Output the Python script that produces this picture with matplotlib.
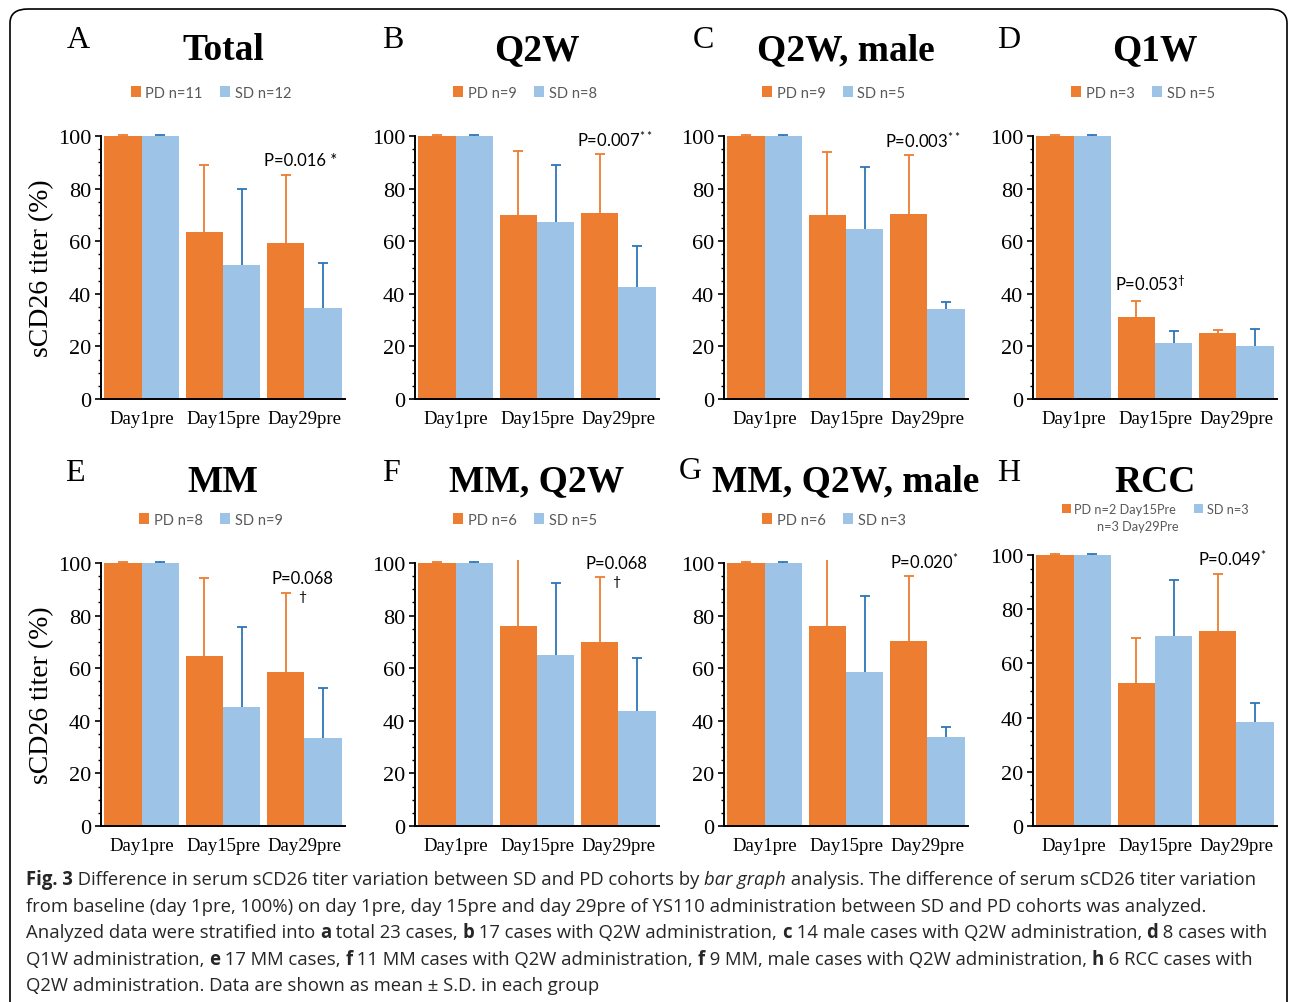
import numpy as np
import matplotlib
matplotlib.use("Agg")
import matplotlib.pyplot as plt
from matplotlib.patches import FancyBboxPatch
from matplotlib.transforms import Bbox, TransformedBbox

# data (mean and S.D., % of day 1pre)
days = ["Day1pre", "Day15pre", "Day29pre"]
letters = ["A", "B", "C", "D", "E", "F", "G", "H"]
titles = ["Total", "Q2W", "Q2W, male", "Q1W", "MM", "MM, Q2W", "MM, Q2W, male", "RCC"]
pd_labels = ["PD n=11", "PD n=9", "PD n=9", "PD n=3", "PD n=8", "PD n=6", "PD n=6", "PD n=2 Day15Pre"]
sd_labels = ["SD n=12", "SD n=8", "SD n=5", "SD n=5", "SD n=9", "SD n=5", "SD n=3", "SD n=3"]

pd_mean = [[100, 63.5, 59.3], [100, 70.0, 70.8], [100, 70.0, 70.5], [100, 31.2, 25.1],
           [100, 64.6, 58.6], [100, 76.0, 70.0], [100, 76.0, 70.3], [100, 52.8, 72.0]]
pd_err = [[0.3, 25.5, 25.7], [0.3, 24.4, 22.2], [0.3, 24.0, 22.3], [0.3, 6.1, 1.2],
          [0.3, 29.7, 30.0], [0.3, 30.0, 24.7], [0.3, 30.0, 24.7], [0.3, 16.6, 21.0]]
sd_mean = [[100, 51.0, 34.6], [100, 67.4, 42.4], [100, 64.7, 34.2], [100, 21.3, 20.2],
           [100, 45.2, 33.5], [100, 65.0, 43.7], [100, 58.6, 33.8], [100, 70.1, 38.4]]
sd_err = [[0.3, 29.0, 17.1], [0.3, 21.6, 15.9], [0.3, 23.5, 2.8], [0.3, 4.6, 6.4],
          [0.3, 30.5, 19.0], [0.3, 27.4, 20.3], [0.3, 28.9, 3.8], [0.3, 20.7, 7.0]]

p_text = ["P=0.016 *", "P=0.007$\\mathregular{^{**}}$", "P=0.003$\\mathregular{^{**}}$",
          "P=0.053$\\mathregular{^{†}}$", "P=0.068", "P=0.068",
          "P=0.020$\\mathregular{^{*}}$", "P=0.049$\\mathregular{^{*}}$"]
p_pos = [(1.95, 91), (1.96, 98.9), (1.94, 98.5), (0.94, 44),
         (1.98, 94.3), (1.98, 100), (1.96, 100.8), (1.95, 98.9)]

ORANGE = "#ED7D31"
BLUE = "#9DC3E6"
DBLUE = "#2E75B6"
SERIF = "Liberation Serif"
SANS = ["Lato", "DejaVu Sans"]

W, H = 1292, 1003
fig = plt.figure(figsize=(W / 100, H / 100), dpi=100)


def fx(x):
    return x / W


def fy(y):
    return 1 - y / H


lefts = [101, 415, 724, 1033]
x = np.arange(len(days))
bw = 0.46

for i in range(8):
    row, col = divmod(i, 4)
    top, bot = (137, 400) if row == 0 else (564, 827)
    if i == 7:
        top = 556
    ax = fig.add_axes([fx(lefts[col]), fy(bot), 244 / W, (bot - top) / H])
    b1 = ax.bar(x - bw / 2, pd_mean[i], bw, color=ORANGE, zorder=2)
    b2 = ax.bar(x + bw / 2, sd_mean[i], bw, color=BLUE, zorder=2)
    # error bars sit behind the bars so only the upper half shows
    clip = TransformedBbox(Bbox([[0, 0], [1, 1.01]]), ax.transAxes)
    for xs, m, e, c in [(x - bw / 2, pd_mean[i], pd_err[i], ORANGE),
                        (x + bw / 2, sd_mean[i], sd_err[i], DBLUE)]:
        eb = ax.errorbar(xs, m, yerr=e, fmt="none", ecolor=c,
                         elinewidth=1.3, capsize=3.5, capthick=1.3, zorder=1)
        for art in eb.lines[1] + eb.lines[2]:
            art.set_clip_box(clip)
    ax.set_xlim(-0.5, 2.5)
    ax.set_ylim(0, 100)
    ax.set_yticks([0, 20, 40, 60, 80, 100])
    ax.set_yticks(np.arange(0, 101, 5), minor=True)
    ax.set_xticks(x)
    ax.set_xticklabels(days, fontfamily=SERIF, fontsize=13.5)
    for lab in ax.get_yticklabels():
        lab.set_fontfamily(SERIF)
        lab.set_fontsize(16)
    ax.tick_params(axis="x", length=0, pad=8)
    ax.tick_params(axis="y", which="major", length=4, width=1.2, direction="out", pad=3)
    ax.tick_params(axis="y", which="minor", length=2.5, width=1.0, direction="out")
    for s in ["top", "right"]:
        ax.spines[s].set_visible(False)
    for s in ["left", "bottom"]:
        ax.spines[s].set_linewidth(1.4)
        ax.spines[s].set_zorder(4)

    if i == 7:
        ax.legend([b1, b2], [pd_labels[i], sd_labels[i]], loc="center",
                  bbox_to_anchor=(0.5, 1.17), ncol=2, frameon=False,
                  prop={"family": SANS, "size": 9.2}, labelcolor="#595959",
                  handlelength=0.7, handleheight=0.7, handletextpad=0.3,
                  columnspacing=1.4, borderaxespad=0)
        ax.text(0.43, 1.107, "n=3 Day29Pre", transform=ax.transAxes, ha="center",
                va="center", fontsize=9.2, family=SANS, color="#595959")
    else:
        ax.legend([b1, b2], [pd_labels[i], sd_labels[i]], loc="center",
                  bbox_to_anchor=(0.45, 1.165), ncol=2, frameon=False,
                  prop={"family": SANS, "size": 10.5}, labelcolor="#595959",
                  handlelength=0.7, handleheight=0.7, handletextpad=0.3,
                  columnspacing=1.2, borderaxespad=0)

    px, py = p_pos[i]
    ax.text(px, py, p_text[i], ha="center", va="center", fontsize=12, family=SANS)
    if i in (4, 5):
        ax.text(px - 0.01, py - 6.7, "†", ha="center", va="center", fontsize=10, family=SANS)

# titles and panel letters
title_y = [51, 51, 51, 51, 482, 482, 482, 482]
title_x = [223, 537, 846, 1155, 223, 537, 846, 1155]
for i in range(8):
    fig.text(fx(title_x[i]), fy(title_y[i]), titles[i], ha="center", va="center",
             fontsize=27, fontweight="bold", family=SERIF)
letter_pos = [(78, 40), (393, 40), (703, 40), (1009, 40),
              (75, 474), (391, 474), (690, 472), (1009, 474)]
for (lx, ly), l in zip(letter_pos, letters):
    fig.text(fx(lx), fy(ly), l, ha="center", va="center", fontsize=23, family=SERIF)

for yc in (268, 695):
    fig.text(fx(42), fy(yc), "sCD26 titer (%)", rotation=90, ha="center", va="center",
             fontsize=20, family=SERIF)

# rounded frame around the figure
frame = FancyBboxPatch((fx(10), fy(1020)), fx(1277), 1010 / H,
                       boxstyle="round,pad=0,rounding_size=0.014",
                       transform=fig.transFigure, fill=False, ec="black", lw=1.2)
fig.add_artist(frame)

# caption, drawn as runs of mixed style
CAP = ["Open Sans", "DejaVu Sans"]
N, B, I = "normal", "bold", "italic"
cap_lines = [
    [("Fig. 3", B), (" Difference in serum sCD26 titer variation between SD and PD cohorts by ", N),
     ("bar graph", I), (" analysis. The difference of serum sCD26 titer variation", N)],
    [("from baseline (day 1pre, 100%) on day 1pre, day 15pre and day 29pre of YS110 administration between SD and PD cohorts was analyzed.", N)],
    [("Analyzed data were stratified into ", N), ("a", B), (" total 23 cases, ", N), ("b", B),
     (" 17 cases with Q2W administration, ", N), ("c", B), (" 14 male cases with Q2W administration, ", N),
     ("d", B), (" 8 cases with", N)],
    [("Q1W administration, ", N), ("e", B), (" 17 MM cases, ", N), ("f", B),
     (" 11 MM cases with Q2W administration, ", N), ("f", B), (" 9 MM, male cases with Q2W administration, ", N),
     ("h", B), (" 6 RCC cases with", N)],
    [("Q2W administration. Data are shown as mean ± S.D. in each group", N)],
]
cap_y = [880, 907, 933, 960, 986]

renderer = fig.canvas.get_renderer()


def style_kw(st, size):
    kw = dict(fontsize=size, family=CAP)
    if st == B:
        kw["fontweight"] = "bold"
    elif st == I:
        kw["fontstyle"] = "italic"
    return kw


def run_width(txt, st, size):
    t1 = fig.text(0, 0, "|" + txt + "|", **style_kw(st, size))
    t2 = fig.text(0, 0, "||", **style_kw(st, size))
    w = t1.get_window_extent(renderer).width - t2.get_window_extent(renderer).width
    t1.remove()
    t2.remove()
    return w


# pick a caption size so the longest line spans the same width as the reference
ref_w = sum(run_width(t, s, 10) for t, s in cap_lines[2])
cap_size = 10 * 1244 / ref_w

for line, yc in zip(cap_lines, cap_y):
    xc = 26
    for txt, st in line:
        fig.text(fx(xc), fy(yc), txt, ha="left", va="center", color="#262626",
                 **style_kw(st, cap_size))
        xc += run_width(txt, st, cap_size)

fig.savefig("out.png", dpi=100)
